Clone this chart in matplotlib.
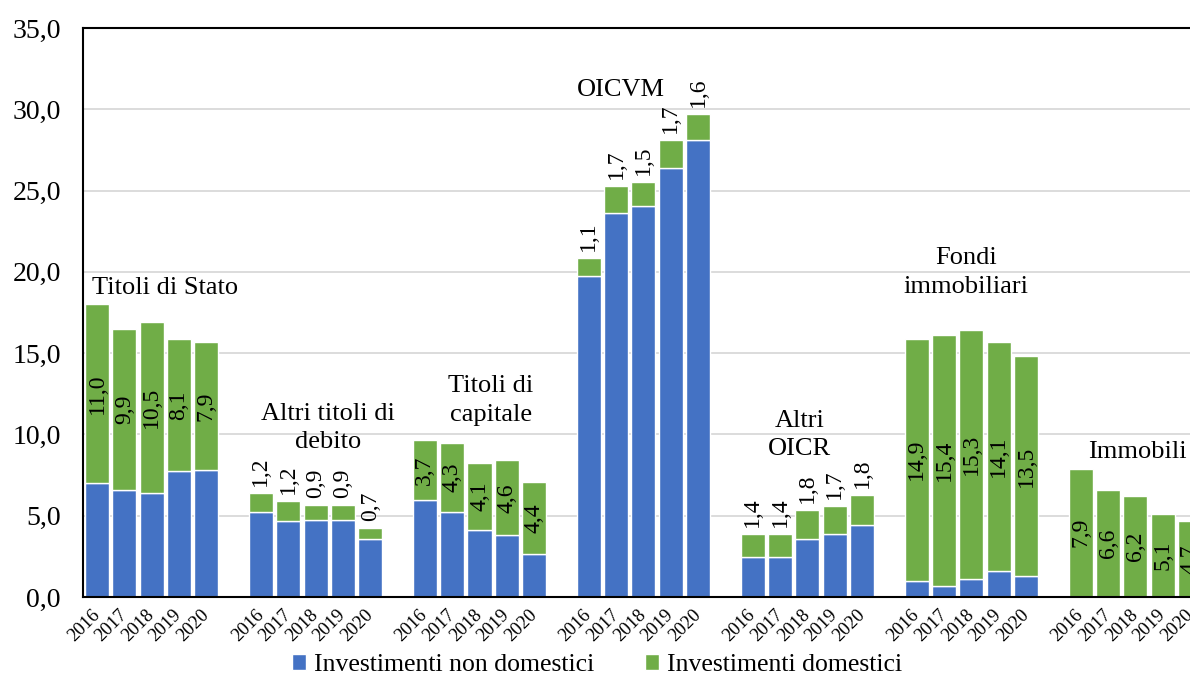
import matplotlib
matplotlib.use("Agg")
import matplotlib.pyplot as plt
import numpy as np

plt.rcParams['font.family'] = ['Liberation Serif', 'DejaVu Serif']

categories = ["Titoli di Stato", "Altri titoli di\ndebito", "Titoli di\ncapitale", "OICVM",
              "Altri\nOICR", "Fondi\nimmobiliari", "Immobili"]
years = ["2016", "2017", "2018", "2019", "2020"]

non_domestic = [
    [7.0, 6.6, 6.4, 7.75, 7.8],       # Titoli di Stato
    [5.2, 4.7, 4.75, 4.75, 3.55],     # Altri titoli di debito
    [5.95, 5.2, 4.15, 3.8, 2.65],     # Titoli di capitale
    [19.75, 23.6, 24.05, 26.4, 28.1], # OICVM
    [2.45, 2.47, 3.55, 3.9, 4.45],    # Altri OICR
    [1.0, 0.7, 1.1, 1.6, 1.3],        # Fondi immobiliari
    [0.0, 0.0, 0.0, 0.0, 0.0],        # Immobili
]
domestic = [
    [11.0, 9.9, 10.5, 8.1, 7.9],
    [1.2, 1.2, 0.9, 0.9, 0.7],
    [3.7, 4.3, 4.1, 4.6, 4.4],
    [1.1, 1.7, 1.5, 1.7, 1.6],
    [1.4, 1.4, 1.8, 1.7, 1.8],
    [14.9, 15.4, 15.3, 14.1, 13.5],
    [7.9, 6.6, 6.2, 5.1, 4.7],
]
series_names = ["Investimenti non domestici", "Investimenti domestici"]

# layout (positions of group titles: x in slot units, y in data units)
title_pos = [(2.49, 19.0), (8.45, 10.4), (14.42, 12.1), (19.16, 31.2),
             (25.7, 9.96), (31.8, 19.96), (38.06, 8.93)]

BLUE = "#4472C4"
GREEN = "#70AD47"

fig = plt.figure(figsize=(11.9, 6.77), dpi=100)
ax = fig.add_axes([83/1190, 1-597/677, 1-83/1190, (597-28)/677])

xs, blue_vals, green_vals, tick_labels = [], [], [], []
n_years = len(years)
for g in range(len(categories)):
    for i in range(n_years):
        xs.append(g * (n_years + 1) + i)
        blue_vals.append(non_domestic[g][i])
        green_vals.append(domestic[g][i])
        tick_labels.append(years[i])
xs = np.array(xs, dtype=float)
blue_vals = np.array(blue_vals)
green_vals = np.array(green_vals)

w = 0.88
ax.bar(xs, blue_vals, width=w, color=BLUE, edgecolor="white", linewidth=1.0,
       zorder=3, label=series_names[0])
ax.bar(xs, green_vals, width=w, bottom=blue_vals, color=GREEN, edgecolor="white",
       linewidth=1.0, zorder=3, label=series_names[1])

for x, b, gv in zip(xs, blue_vals, green_vals):
    txt = f"{gv:.1f}".replace(".", ",")
    if gv >= 3:
        ax.text(x, b + gv / 2, txt, rotation=90, ha="center", va="center",
                fontsize=17, zorder=4)
    else:
        ax.annotate(txt, (x, b + gv), xytext=(0, 5), textcoords="offset points",
                    rotation=90, ha="center", va="bottom", fontsize=17, zorder=4)

for name, (tx, ty) in zip(categories, title_pos):
    ax.text(tx, ty, name, ha="center", va="center", fontsize=19,
            linespacing=1.4, zorder=5)

ax.set_ylim(0, 35)
ax.set_yticks(np.arange(0, 35.1, 5))
ax.set_yticklabels([f"{v:.1f}".replace(".", ",") for v in np.arange(0, 35.1, 5)],
                   fontsize=20)
ax.set_xlim(-0.51, 39.96)
ax.set_xticks(xs)
ax.set_xticklabels(tick_labels, rotation=45, ha="right", va="center",
                   rotation_mode="anchor", fontsize=13.5)
ax.tick_params(axis="x", length=0, pad=11)
ax.tick_params(axis="y", length=0, pad=16)

ax.yaxis.grid(True, color="#D9D9D9", linewidth=1.3, zorder=0)
ax.set_axisbelow(True)
for side in ["left", "bottom", "top"]:
    ax.spines[side].set_color("black")
    ax.spines[side].set_linewidth(1.5)
    ax.spines[side].set_zorder(6)
ax.spines["right"].set_visible(False)

fig.legend(loc="center", bbox_to_anchor=(0.5017, 1 - 665/677), ncol=2,
           frameon=False, fontsize=18.5, handlelength=0.55, handleheight=0.55,
           handletextpad=0.3, columnspacing=2.0, borderaxespad=0)

fig.savefig("out.png", dpi=100)
